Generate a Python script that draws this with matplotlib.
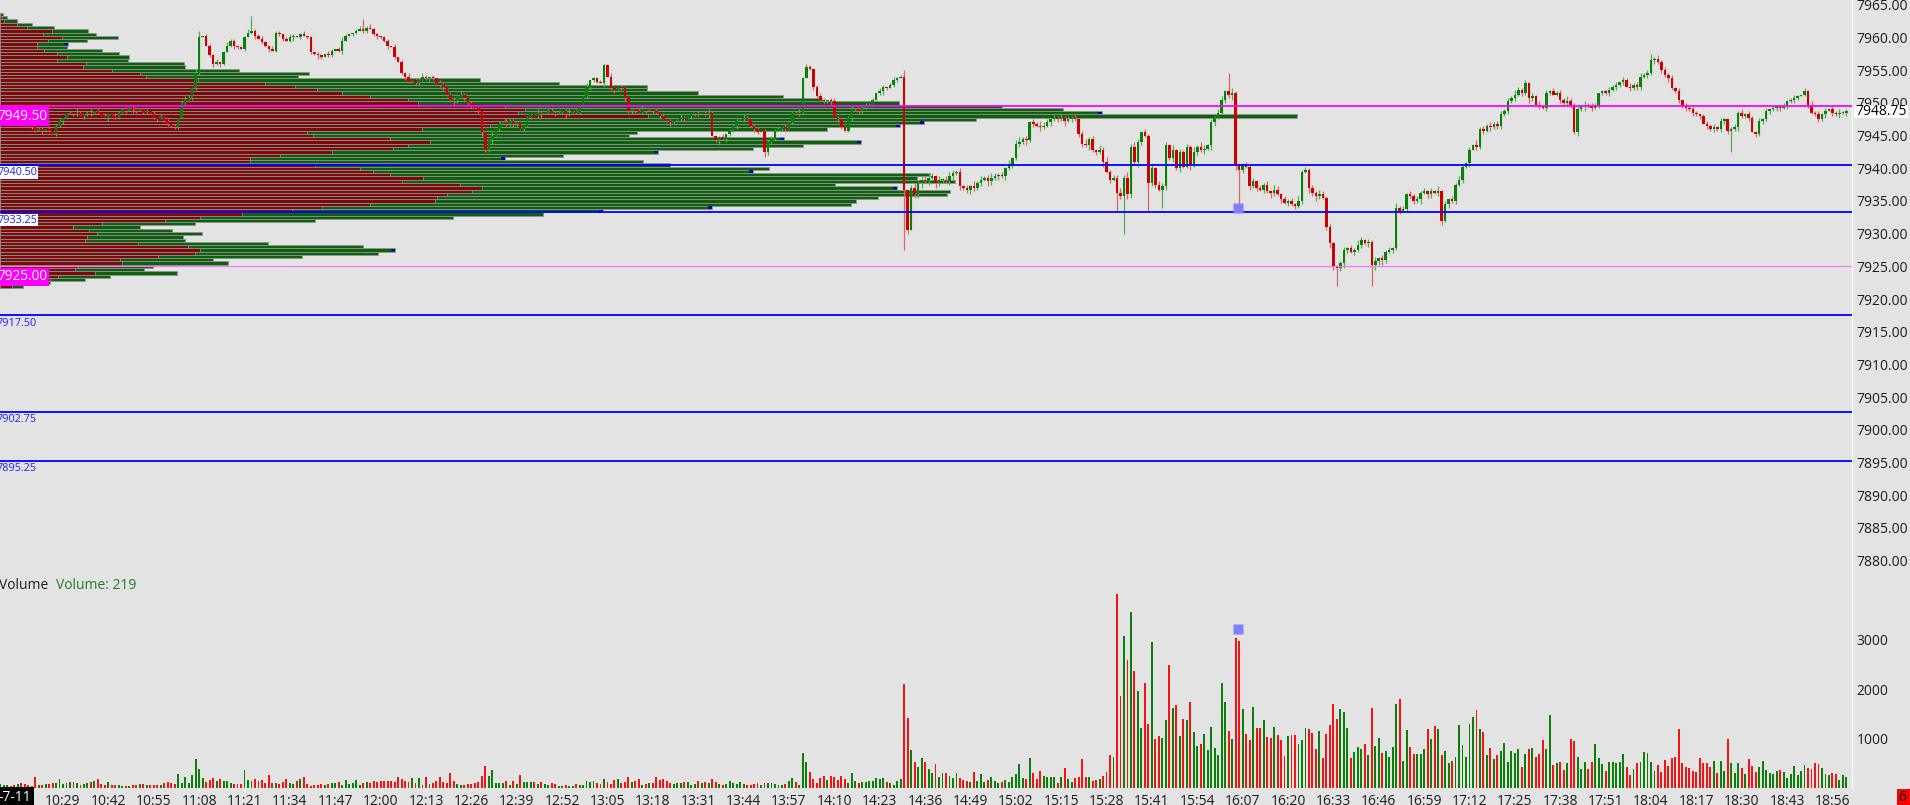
import numpy as np
import matplotlib
matplotlib.use("Agg")
import matplotlib.pyplot as plt
from matplotlib.lines import Line2D
from matplotlib.patches import Rectangle

plt.rcParams['font.family'] = ['Open Sans', 'DejaVu Sans']

# ---------------- data ----------------
BASE = 7900.0
# 1-minute closes (points above 7900), first bar at 10:11
close_pts = [
    47.5, 47.75, 48.0, 47.75, 47.25, 47.5, 47.0, 46.75, 46.5, 46.25,
    45.75, 46.0, 45.75, 46.0, 45.75, 45.25, 46.5, 47.25, 47.75, 48.25,
    48.5, 48.25, 48.5, 48.0, 48.25, 48.5, 48.25, 48.75, 48.5, 48.0,
    47.75, 48.25, 48.0, 47.75, 48.5, 49.0, 48.75, 49.25, 49.0, 48.75,
    49.0, 48.5, 48.75, 48.25, 47.75, 47.5, 48.0, 47.25, 46.75, 46.5,
    46.25, 47.75, 50.0, 50.5, 50.75, 52.25, 54.5, 60.0, 60.25, 58.75,
    57.25, 56.0, 56.25, 56.0, 57.75, 58.75, 59.5, 58.75, 58.5, 58.25,
    60.0, 60.75, 61.0, 60.25, 59.75, 59.25, 58.75, 58.25, 58.0, 60.75,
    60.5, 59.75, 59.5, 60.0, 60.25, 60.0, 60.5, 60.25, 60.0, 57.75,
    57.5, 57.25, 57.0, 57.5, 57.25, 58.0, 58.25, 58.0, 59.5, 60.25,
    60.5, 60.75, 61.0, 61.25, 61.0, 61.5, 61.25, 60.5, 60.25, 60.0,
    59.5, 58.75, 58.5, 57.0, 56.25, 54.5, 54.0, 53.25, 53.5, 53.0,
    53.5, 54.0, 53.75, 54.0, 53.75, 53.0, 52.75, 52.5, 51.25, 50.5,
    50.25, 51.0, 51.25, 50.75, 50.0, 49.5, 49.25, 48.75, 45.5, 42.75,
    44.25, 45.0, 46.0, 46.75, 47.0, 46.75, 47.25, 46.75, 47.0, 46.0,
    46.5, 47.75, 48.25, 48.0, 48.5, 48.25, 48.5, 48.75, 48.5, 48.25,
    48.5, 48.75, 48.25, 48.5, 48.75, 48.5, 49.5, 51.0, 52.5, 53.5,
    53.75, 53.25, 53.0, 55.75, 54.0, 52.25, 52.0, 52.5, 52.25, 50.75,
    48.75, 49.0, 48.75, 48.5, 49.0, 48.75, 49.0, 48.75, 48.5, 48.0,
    47.5, 47.25, 47.0, 47.25, 47.5, 47.75, 47.5, 48.0, 48.25, 48.5,
    48.25, 48.5, 48.25, 48.5, 45.0, 44.25, 44.75, 44.5, 45.25, 45.75,
    46.5, 47.25, 47.5, 47.75, 47.5, 46.5, 46.0, 45.5, 45.75, 42.5,
    44.0, 44.5, 45.75, 46.0, 46.25, 46.0, 47.0, 48.5, 48.25, 48.5,
    53.75, 55.5, 55.25, 52.5, 51.0, 50.5, 50.25, 50.5, 50.25, 47.75,
    47.5, 46.25, 45.75, 47.75, 49.0, 49.0, 48.75, 49.25, 49.5, 49.75,
    50.5, 51.5, 51.75, 52.5, 52.25, 52.75, 53.5, 53.75, 54.0, 36.75,
    30.5, 37.0, 36.0, 37.75, 38.25, 38.0, 38.5, 38.75, 37.75, 38.25,
    38.25, 38.0, 38.75, 39.25, 39.5, 37.25, 37.0, 36.75, 37.25, 37.0,
    37.75, 38.25, 38.5, 38.0, 38.5, 38.75, 39.0, 38.75, 40.0, 40.5,
    41.5, 43.75, 44.0, 44.5, 44.25, 47.0, 46.75, 46.5, 46.25, 46.5,
    47.0, 47.5, 47.75, 47.5, 47.75, 47.25, 47.5, 47.75, 47.5, 45.25,
    43.75, 43.5, 44.5, 42.75, 42.5, 42.75, 41.0, 39.5, 38.25, 38.5,
    36.25, 35.75, 38.5, 36.0, 43.25, 41.0, 44.0, 45.5, 45.0, 37.75,
    40.0, 37.5, 36.75, 37.25, 43.5, 41.5, 42.75, 40.0, 42.5, 40.25,
    43.25, 40.5, 42.5, 43.25, 42.75, 43.0, 43.5, 47.0, 47.75, 48.5,
    50.5, 51.75, 51.25, 51.5, 40.5, 39.75, 40.5, 40.25, 37.25, 38.0,
    37.0, 36.75, 37.5, 36.5, 36.25, 36.75, 36.0, 35.25, 34.75, 35.0,
    34.5, 34.25, 35.0, 39.5, 39.75, 37.0, 36.25, 35.75, 36.0, 35.5,
    31.0, 28.5, 25.0, 24.75, 25.5, 27.5, 27.75, 27.25, 27.5, 28.25,
    29.0, 28.5, 28.75, 25.25, 25.75, 26.25, 26.0, 27.25, 27.5, 27.75,
    34.0, 33.5, 33.75, 36.0, 35.75, 35.0, 35.25, 36.25, 36.5, 36.0,
    36.5, 36.25, 36.5, 32.0, 34.5, 35.25, 35.0, 37.5, 38.25, 40.25,
    40.75, 42.75, 43.5, 43.25, 46.0, 45.75, 46.5, 46.25, 46.75, 46.5,
    48.25, 48.75, 50.25, 50.75, 51.25, 52.0, 51.5, 53.0, 50.75, 51.0,
    49.75, 49.5, 49.25, 51.5, 51.75, 51.25, 51.5, 50.5, 50.0, 50.25,
    49.75, 45.5, 49.0, 49.5, 49.75, 49.5, 49.25, 49.75, 51.5, 51.75,
    51.5, 52.0, 52.5, 52.75, 53.25, 53.5, 52.5, 52.25, 52.75, 52.5,
    54.0, 54.25, 54.5, 56.5, 56.75, 56.25, 55.0, 54.25, 53.75, 52.25,
    51.75, 50.5, 49.5, 49.25, 49.0, 48.5, 48.25, 48.0, 46.75, 46.5,
    46.0, 46.25, 46.0, 47.25, 47.5, 45.75, 46.0, 46.25, 48.5, 48.0,
    48.25, 47.75, 45.5, 45.25, 47.25, 47.5, 48.75, 49.0, 49.25, 49.5,
    49.25, 49.5, 50.25, 50.5, 50.75, 51.0, 51.25, 51.75, 49.75, 48.5,
    48.25, 47.5, 48.25, 48.75, 49.0, 48.5, 48.25, 48.5, 48.5, 48.75,
]

volume = [
    80, 60, 55, 40, 55, 80, 95, 80, 55, 50,
    230, 70, 60, 75, 80, 110, 95, 175, 90, 105,
    130, 125, 105, 60, 80, 95, 115, 150, 190, 80,
    60, 115, 60, 55, 60, 40, 40, 40, 55, 60,
    80, 80, 60, 60, 55, 60, 60, 95, 120, 110,
    80, 285, 110, 215, 110, 265, 585, 385, 200, 115,
    160, 195, 135, 175, 150, 135, 110, 80, 80, 80,
    365, 160, 150, 175, 150, 160, 95, 255, 110, 95,
    80, 120, 175, 110, 80, 135, 175, 215, 80, 40,
    60, 60, 75, 60, 80, 110, 95, 130, 65, 160,
    80, 110, 160, 55, 110, 130, 95, 150, 130, 150,
    140, 140, 140, 125, 215, 175, 135, 120, 195, 110,
    195, 55, 215, 75, 95, 140, 215, 125, 95, 295,
    135, 80, 60, 70, 75, 80, 110, 115, 250, 450,
    240, 365, 110, 100, 110, 145, 60, 135, 80, 265,
    130, 130, 125, 125, 75, 130, 80, 65, 110, 80,
    50, 50, 60, 40, 50, 75, 60, 55, 140, 120,
    150, 110, 90, 175, 125, 75, 160, 180, 110, 120,
    220, 130, 135, 180, 60, 85, 100, 95, 230, 160,
    180, 135, 110, 75, 105, 95, 115, 120, 60, 75,
    135, 95, 115, 100, 190, 120, 80, 60, 90, 135,
    110, 90, 120, 80, 70, 70, 90, 110, 60, 95,
    95, 110, 75, 60, 65, 80, 140, 210, 130, 70,
    715, 530, 325, 180, 110, 210, 250, 160, 235, 215,
    160, 235, 175, 110, 310, 135, 110, 120, 120, 150,
    135, 210, 175, 200, 130, 95, 70, 140, 175, 2100,
    1405, 770, 530, 430, 615, 530, 375, 295, 485, 215,
    310, 310, 240, 195, 310, 195, 160, 150, 120, 320,
    150, 275, 130, 160, 230, 140, 110, 128, 160, 128,
    215, 276, 485, 202, 182, 600, 310, 180, 343, 242,
    215, 215, 229, 94, 229, 397, 175, 121, 195, 229,
    579, 215, 215, 135, 162, 182, 242, 323, 667, 633,
    3920, 1860, 3070, 2590, 3560, 2360, 1950, 1210, 2115, 1285,
    2950, 1000, 1045, 1005, 1375, 2480, 1610, 1670, 1045, 1390,
    1365, 1730, 1140, 850, 880, 1085, 770, 1230, 800, 670,
    2115, 1735, 1145, 990, 3030, 2970, 1590, 1085, 965, 1630,
    1210, 1220, 1375, 1030, 1005, 1230, 1070, 965, 645, 1050,
    1070, 1070, 890, 970, 1220, 1185, 1105, 790, 1150, 605,
    1090, 1275, 1695, 1385, 1595, 1535, 1210, 600, 725, 835,
    795, 890, 665, 1610, 855, 1005, 700, 740, 635, 820,
    1695, 1790, 545, 1165, 820, 680, 680, 680, 790, 1185,
    985, 1250, 1185, 660, 740, 500, 545, 625, 1265, 860,
    620, 1295, 1435, 1575, 1200, 1140, 665, 800, 580, 660,
    745, 910, 520, 745, 705, 780, 425, 680, 790, 815,
    625, 685, 970, 790, 1470, 465, 500, 520, 365, 500,
    985, 950, 635, 375, 520, 375, 520, 890, 600, 485,
    345, 520, 520, 500, 520, 680, 425, 255, 375, 500,
    525, 720, 705, 525, 345, 460, 325, 565, 440, 600,
    620, 1185, 500, 425, 395, 345, 315, 600, 500, 500,
    425, 540, 310, 540, 345, 985, 510, 305, 500, 405,
    275, 580, 440, 325, 430, 540, 365, 295, 275, 345,
    355, 315, 195, 275, 440, 265, 345, 460, 395, 385,
    505, 480, 405, 275, 265, 295, 275, 160, 255, 219,
]

# wick lengths beyond the body, in ticks (0.25), one digit per bar
wick_up = ("1010211010" "0110201101" "1021012010" "1102101120" "0110201010"
           "1012213401" "1120121101" "1291121021" "1012101201" "0110210121"
           "1012612110" "1102011201" "1210102101" "1021011100" "1201021101"
           "0110210121" "1012011020" "1011121011" "0101210110" "1010121010"
           "1012101201" "1102101101" "1211020112" "1210121012" "1011201121"
           "1021012114" "0231223212" "1232121213" "1212321213" "1231212132"
           "2121312121" "2312132312" "2314232121" "3123213121" "2131321212"
           "2133121212" "1212132121" "2131212132" "1212121213" "2121312121"
           "3121212121" "2131212121" "1213121212" "2121321212" "1202121213"
           "2120212101" "1212021212" "2124121212" "1202121012" "1212101212"
           "1211212121" "1201210212" "1212021211")
wick_dn = ("1101021101" "1021101120" "0110211010" "1201101021" "0110120111"
           "1101011200" "1212101210" "1012011201" "1101201011" "1210110120"
           "0110210121" "1201012101" "1012101211" "2101210121" "1201011210"
           "1110120101" "0121011012" "1102012112" "1210110212" "0121011021"
           "1012013121" "1201012103" "2110120101" "1012101120" "2101212110"
           "1012101109" "2022312132" "2123121232" "1213212121" "2121312121"
           "1212131212" "2131213121" "3223223212" "2213212121" "1312121321"
           "1213312121" "2121321212" "1212132321" "2323232121" "2121323212"
           "1212121312" "2123121212" "1202121212" "2121212132" "1212101212"
           "2121312121" "1212120212" "2120212121" "1212121202" "1212223121"
           "1202121212" "2121210121" "1212021212")
long_wicks = {57: (4, 1), 72: (9, 1), 104: (6, 1), 259: (4, 37), 320: (2, 11),
              322: (2, 23), 329: (1, 17), 333: (2, 11), 352: (11, 2), 355: (1, 21),
              383: (1, 11), 393: (1, 13), 473: (4, 1), 496: (1, 13)}

# volume profile, rows of 0.5 pt from 7963.50 down; bar lengths in px
prof_red = [0, 2, 4, 17, 27, 52, 43, 62, 48, 37,
            37, 44, 57, 67, 57, 86, 83, 112, 140, 146,
            198, 265, 295, 317, 342, 370, 408, 418, 505, 525,
            518, 648, 505, 500, 490, 422, 307, 313, 390, 430,
            408, 393, 332, 280, 250, 250, 315, 360, 373, 390,
            423, 402, 460, 482, 472, 447, 437, 435, 370, 322,
            292, 242, 200, 165, 102, 73, 89, 97, 87, 85,
            138, 188, 200, 195, 158, 120, 122, 78, 75, 95,
            58, 50, 30, 12]
prof_total = [3, 7, 17, 32, 54, 88, 96, 118, 87, 68,
              67, 102, 119, 129, 128, 184, 185, 239, 309, 298,
              480, 559, 647, 647, 698, 783, 822, 899, 1002, 1063,
              1102, 1297, 976, 924, 900, 827, 637, 629, 784, 861,
              803, 753, 658, 563, 505, 643, 670, 769, 753, 930,
              917, 955, 835, 897, 950, 947, 878, 856, 851, 712,
              603, 543, 453, 315, 195, 140, 172, 202, 183, 185,
              268, 363, 395, 378, 302, 213, 228, 153, 144, 177,
              110, 85, 50, 23]
prof_blue_rows = [9, 30, 33, 34, 38, 39, 42, 44, 46, 48, 53, 59, 60, 72]
prof_top, prof_step = 7963.50, 0.5

key_levels = [7940.50, 7933.25, 7917.50, 7902.75, 7895.25]
boxed_levels = [7940.50, 7933.25]
poc_level = 7949.50
low_level = 7925.00
last_price = 7948.75
marker_bar, marker_price, marker_vol = 354.7, 7933.9, 3210
start_min = 10 * 60 + 11
price_ticks = np.arange(7880, 7966, 5)
vol_ticks = [1000, 2000, 3000]

# ---------------- styling ----------------
BG = '#e3e3e3'
W, H = 1910, 805
AX_R = 1852
G_BODY, R_BODY = '#078207', '#cc0000'
G_WICK, R_WICK = '#5aa85a', '#dc6464'
G_VOL, R_VOL = '#0a800a', '#f01414'
PR_G, PR_R, PR_EDGE = '#0e5f0e', '#7b0b0b', '#939393'
BLUE, MAG, PINK = '#0000ff', '#ff00ff', '#ff70ff'
TXT = '#1e1e1e'
FS = 10


def rect(x0, y0, x1, y1):
    return [x0 / W, 1 - y1 / H, (x1 - x0) / W, (y1 - y0) / H]


fig = plt.figure(figsize=(W / 100, H / 100), dpi=100, facecolor=BG)
ylim_p = (7965.73 - 575 / 6.54, 7965.73)
xlim = (-0.06, (AX_R - 0.2) / 3.49)

# profile layer (behind candles)
axp = fig.add_axes(rect(0, 0, AX_R, 575), zorder=1)
axp.set_xlim(0, AX_R)
axp.set_ylim(*ylim_p)
axp.axis('off')
py = prof_top - prof_step * np.arange(len(prof_red))
axp.barh(py, prof_total, height=prof_step, color=PR_G, edgecolor=PR_EDGE, linewidth=0.55)
axp.barh(py, prof_red, height=prof_step, color=PR_R, edgecolor=PR_EDGE, linewidth=0.55)
for r in prof_blue_rows:
    axp.barh(py[r], 4, left=prof_total[r] - 4, height=prof_step * 0.7, color='#0000c8', linewidth=0)

# price layer
ax = fig.add_axes(rect(0, 0, AX_R, 575), zorder=2)
ax.patch.set_visible(False)
ax.set_xlim(*xlim)
ax.set_ylim(*ylim_p)

c = BASE + np.array(close_pts)
o = np.r_[c[0], c[:-1]]
up = np.array([int(ch) for ch in wick_up]) * 0.25
dn = np.array([int(ch) for ch in wick_dn]) * 0.25
for k, (u, d) in long_wicks.items():
    up[k], dn[k] = u * 0.25, d * 0.25
hi = np.maximum(o, c) + up
lo = np.minimum(o, c) - dn
x = np.arange(len(c))
bull = c >= o

ax.vlines(x, lo, hi, colors=np.where(bull, G_WICK, R_WICK), linewidth=0.9, zorder=3)
ax.bar(x, np.maximum(np.abs(c - o), 0.12), bottom=np.minimum(o, c), width=0.72,
       color=np.where(bull, G_BODY, R_BODY), linewidth=0, zorder=4)

for lv in key_levels:
    ax.axhline(lv, color=BLUE, lw=1.3, zorder=5)
ax.axhline(poc_level, color=MAG, lw=1.3, zorder=5)
ax.axhline(low_level, color=PINK, lw=0.8, zorder=5)
ax.plot([marker_bar], [marker_price], 's', ms=7, color='#8080ff', mec='none', zorder=6)

ax.yaxis.tick_right()
ax.set_yticks(price_ticks)
ax.set_yticklabels([f"{v:.2f}" for v in price_ticks])
ax.tick_params(axis='y', length=0, pad=3.5, labelsize=FS, labelcolor=TXT)
ax.set_xticks([])
for s in ax.spines.values():
    s.set_visible(False)

ytr = ax.get_yaxis_transform()
# last price tag on the scale
y_last = (7965.73 - last_price) * 6.54
fig.add_artist(Rectangle((1854 / W, 1 - (y_last + 6.5) / H), 54 / W, 13 / H,
                         transform=fig.transFigure, fc='white', ec='none', zorder=8))
fig.text(1855 / W, 1 - y_last / H, f"{last_price:.2f}", ha='left', va='center',
         fontsize=FS, color='black', zorder=9)

# left level labels
for lv in [poc_level, low_level]:
    ax.annotate(f"{lv:.2f}", xy=(47 / AX_R, lv), xycoords=ytr, xytext=(0, -2),
                textcoords='offset points', ha='right', va='top', fontsize=9.8,
                color='white', zorder=10,
                bbox=dict(boxstyle='square,pad=0.12', fc=MAG, ec='none'))
for lv in key_levels:
    boxed = lv in boxed_levels
    ax.annotate(f"{lv:.2f}", xy=(37 / AX_R, lv), xycoords=ytr, xytext=(0, -1.5),
                textcoords='offset points', ha='right', va='top', fontsize=7.8,
                color='#2020ff', zorder=10,
                bbox=dict(boxstyle='square,pad=0.08', fc='white' if boxed else 'none', ec='none'))

# volume layer
axv = fig.add_axes(rect(0, 575, AX_R, 788), zorder=2)
axv.patch.set_visible(False)
axv.set_xlim(*xlim)
axv.set_ylim(0, (788 - 575) / 49.5 * 1000)
axv.bar(x, volume, width=0.55, color=np.where(bull, G_VOL, R_VOL), linewidth=0)
axv.plot([marker_bar], [marker_vol], 's', ms=7, color='#8080ff', mec='none')
axv.yaxis.tick_right()
axv.set_yticks(vol_ticks)
axv.set_yticklabels([str(v) for v in vol_ticks])
axv.tick_params(axis='y', length=0, pad=3.5, labelsize=FS, labelcolor=TXT)
tick_pos = np.arange(18, len(c), 13)
axv.set_xticks(tick_pos)
axv.set_xticklabels([f"{(start_min + t) // 60}:{(start_min + t) % 60:02d}" for t in tick_pos])
axv.tick_params(axis='x', length=2.5, color='#f6f6f6', pad=1.5, labelsize=FS, labelcolor=TXT)
for s in axv.spines.values():
    s.set_visible(False)

fig.text(-1 / W, 1 - 585 / H, "Volume", ha='left', va='center', fontsize=FS, color=TXT)
fig.text(56 / W, 1 - 585 / H, f"Volume: {volume[-1]}", ha='left', va='center',
         fontsize=FS, color='#1f7f1f')

# right axis line, date tag, corner box
fig.add_artist(Line2D([AX_R / W] * 2, [1 - 788 / H, 1], color='#f8f8f8', lw=1))
fig.text(31 / W, 1 - 797 / H, "-7-11", ha='right', va='center', fontsize=FS, color='white',
         bbox=dict(boxstyle='square,pad=0.2', fc='black', ec='none'))
fig.add_artist(Rectangle((1897 / W, 0), 13 / W, 16 / H, transform=fig.transFigure,
                         fc='#ff0000', ec='none'))
fig.text(1898 / W, 1 - 797 / H, "6", ha='left', va='center', fontsize=FS, color='black')

fig.savefig("out.png", dpi=100, facecolor=BG)
